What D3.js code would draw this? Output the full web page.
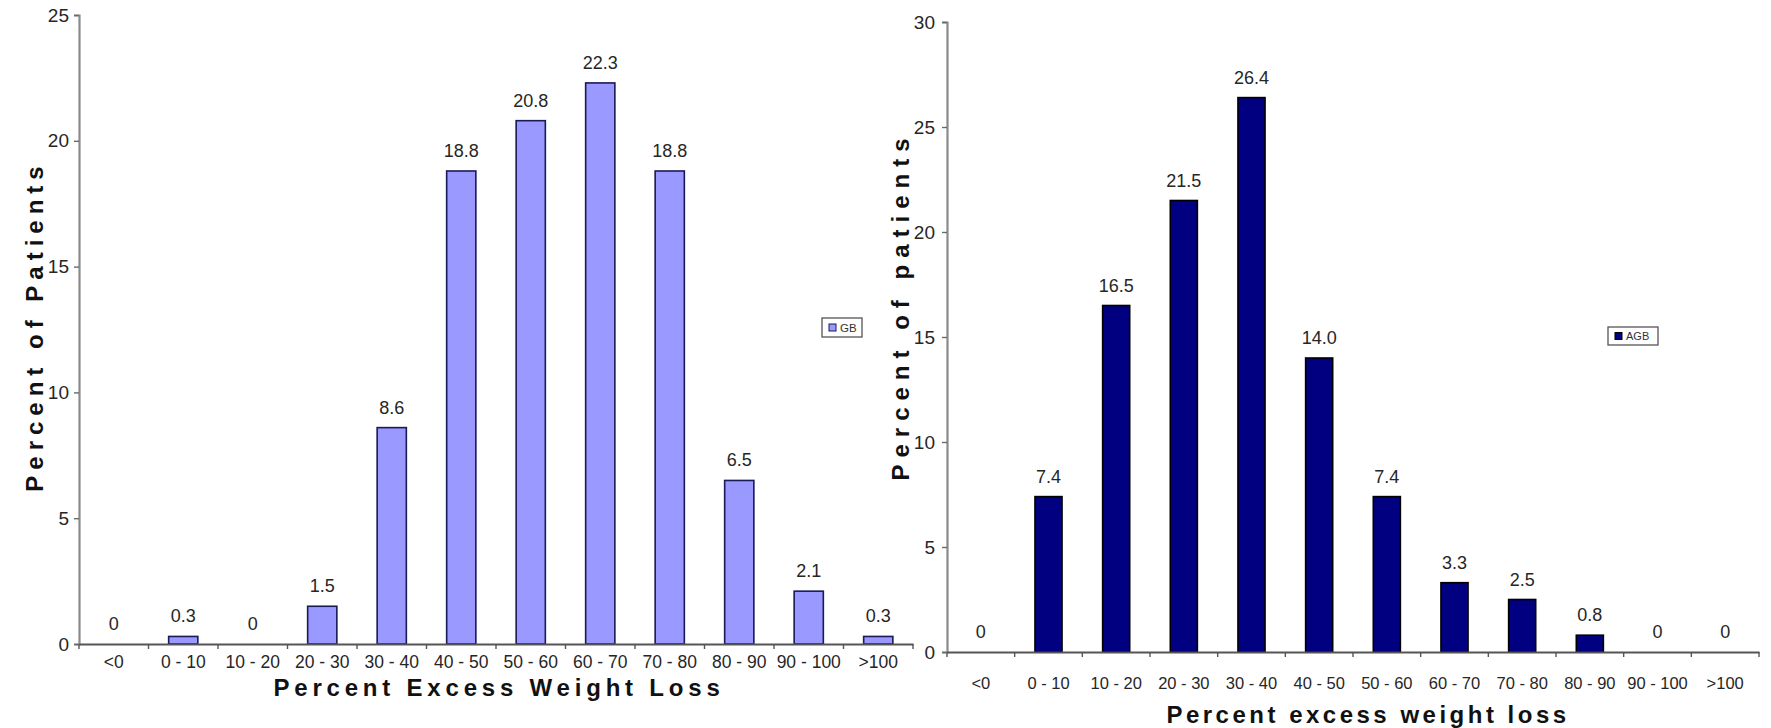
<!DOCTYPE html>
<html>
<head>
<meta charset="utf-8">
<script src="https://cdn.jsdelivr.net/npm/d3@7"></script>
<style>
  html, body { margin: 0; padding: 0; background: #ffffff; }
  svg { display: block; font-family: Arial, "Liberation Sans", sans-serif; }
</style>
</head>
<body>
<svg id="chart" width="1771" height="728"></svg>
<script>
// ---- data ----
const categories = ["<0", "0 - 10", "10 - 20", "20 - 30", "30 - 40", "40 - 50", "50 - 60", "60 - 70", "70 - 80", "80 - 90", "90 - 100", ">100"];
const gbValues  = [0, 0.3, 0, 1.5, 8.6, 18.8, 20.8, 22.3, 18.8, 6.5, 2.1, 0.3];
const agbValues = [0, 7.4, 16.5, 21.5, 26.4, 14.0, 7.4, 3.3, 2.5, 0.8, 0, 0];
const gbTicks  = [0, 5, 10, 15, 20, 25];
const agbTicks = [0, 5, 10, 15, 20, 25, 30];
const gbSeries = "GB";
const agbSeries = "AGB";
const gbYTitle = "Percent of Patients";
const agbYTitle = "Percent of patients";
const gbXTitle = "Percent Excess Weight Loss";
const agbXTitle = "Percent excess weight loss";

const svg = d3.select("#chart");
const fmt = v => v === 0 ? "0" : v.toFixed(1);

function drawChart(opt) {
  const g = svg.append("g");
  const x = d3.scaleBand().domain(categories).range([opt.left, opt.right]).padding(0);
  const y = d3.scaleLinear().domain([0, d3.max(opt.ticks)]).range([opt.bottom, opt.top]);
  const bw = x.bandwidth();

  // y axis
  const yAxis = g.append("g")
    .attr("transform", `translate(${opt.left},0)`)
    .call(d3.axisLeft(y).tickValues(opt.ticks).tickSize(5).tickPadding(opt.tickPad).tickFormat(d3.format("d")));
  yAxis.select(".domain").attr("stroke", "#8a8a8a").attr("stroke-width", 2.2);
  yAxis.selectAll(".tick line").attr("stroke", "#6a6a6a").attr("stroke-width", 1.4);
  yAxis.selectAll(".tick text").attr("font-size", 19).attr("fill", "#262626")
    .attr("font-family", "Arial, 'Liberation Sans', sans-serif");

  // bars
  g.selectAll("rect.bar").data(opt.values).enter().append("rect")
    .attr("class", "bar")
    .attr("x", (d, i) => x(categories[i]) + bw * (0.5 - opt.barFrac / 2))
    .attr("width", bw * opt.barFrac)
    .attr("y", d => y(d))
    .attr("height", d => opt.bottom - y(d))
    .attr("fill", opt.fill)
    .attr("stroke", opt.stroke)
    .attr("stroke-width", 1.6);

  // x axis
  const xAxis = g.append("g")
    .attr("transform", `translate(0,${opt.bottom})`)
    .call(d3.axisBottom(x).tickSize(0).tickPadding(opt.catPad));
  xAxis.select(".domain").attr("stroke", "#555").attr("stroke-width", 2);
  xAxis.selectAll(".tick text").attr("font-size", opt.catFont).attr("fill", "#262626")
    .attr("font-family", "Arial, 'Liberation Sans', sans-serif");
  // tick marks on band boundaries
  const bounds = categories.map(c => x(c)).concat([x(categories[categories.length - 1]) + bw]);
  g.selectAll("line.xtick").data(bounds).enter().append("line")
    .attr("class", "xtick")
    .attr("x1", d => d).attr("x2", d => d)
    .attr("y1", opt.bottom).attr("y2", opt.bottom + 5)
    .attr("stroke", "#555").attr("stroke-width", 1.4);

  // value labels
  g.selectAll("text.val").data(opt.values).enter().append("text")
    .attr("class", "val")
    .attr("x", (d, i) => x(categories[i]) + bw / 2)
    .attr("y", d => y(d) - 14)
    .attr("text-anchor", "middle")
    .attr("font-size", 18)
    .attr("fill", "#262626")
    .text(d => fmt(d));

  // axis titles
  g.append("text")
    .attr("transform", `translate(${opt.yTitleX},${opt.yTitleY}) rotate(-90)`)
    .attr("text-anchor", "middle")
    .attr("dominant-baseline", "central")
    .attr("font-size", 24).attr("font-weight", "bold")
    .attr("letter-spacing", opt.yTitleLS)
    .attr("fill", "#111")
    .text(opt.yTitle);
  g.append("text")
    .attr("x", opt.xTitleX).attr("y", opt.xTitleY)
    .attr("text-anchor", "middle")
    .attr("dominant-baseline", "central")
    .attr("font-size", 24).attr("font-weight", "bold")
    .attr("letter-spacing", opt.xTitleLS)
    .attr("fill", "#111")
    .text(opt.xTitle);

  // legend
  const lg = g.append("g").attr("transform", `translate(${opt.legX},${opt.legY})`);
  lg.append("rect").attr("x", 0).attr("y", 0).attr("width", opt.legW).attr("height", opt.legH)
    .attr("fill", "#fff").attr("stroke", "#555").attr("stroke-width", 1.3);
  lg.append("rect").attr("x", 7).attr("y", opt.legH / 2 - 3.5).attr("width", 7).attr("height", 7)
    .attr("fill", opt.fill).attr("stroke", opt.stroke).attr("stroke-width", 1);
  lg.append("text").attr("x", 18).attr("y", opt.legH / 2).attr("dominant-baseline", "central")
    .attr("font-size", opt.legFont).attr("fill", "#333").text(opt.series);
}

drawChart({
  values: gbValues, ticks: gbTicks, series: gbSeries,
  left: 79, right: 913, top: 15, bottom: 644,
  fill: "#9999ff", stroke: "#1a1a55", barFrac: 0.42,
  tickPad: 5, catPad: 12, catFont: 17.5,
  yTitle: gbYTitle, yTitleX: 34, yTitleY: 326, yTitleLS: 6,
  xTitle: gbXTitle, xTitleX: 499, xTitleY: 687, xTitleLS: 4.8,
  legX: 822, legY: 318, legW: 40, legH: 19, legFont: 11.5
});

drawChart({
  values: agbValues, ticks: agbTicks, series: agbSeries,
  left: 947, right: 1759, top: 22, bottom: 652,
  fill: "#000080", stroke: "#000000", barFrac: 0.4,
  tickPad: 7, catPad: 25, catFont: 16.5,
  yTitle: agbYTitle, yTitleX: 900, yTitleY: 306, yTitleLS: 7,
  xTitle: agbXTitle, xTitleX: 1368, xTitleY: 714, xTitleLS: 3.5,
  legX: 1608, legY: 327, legW: 50, legH: 18, legFont: 11
});
</script>
</body>
</html>
